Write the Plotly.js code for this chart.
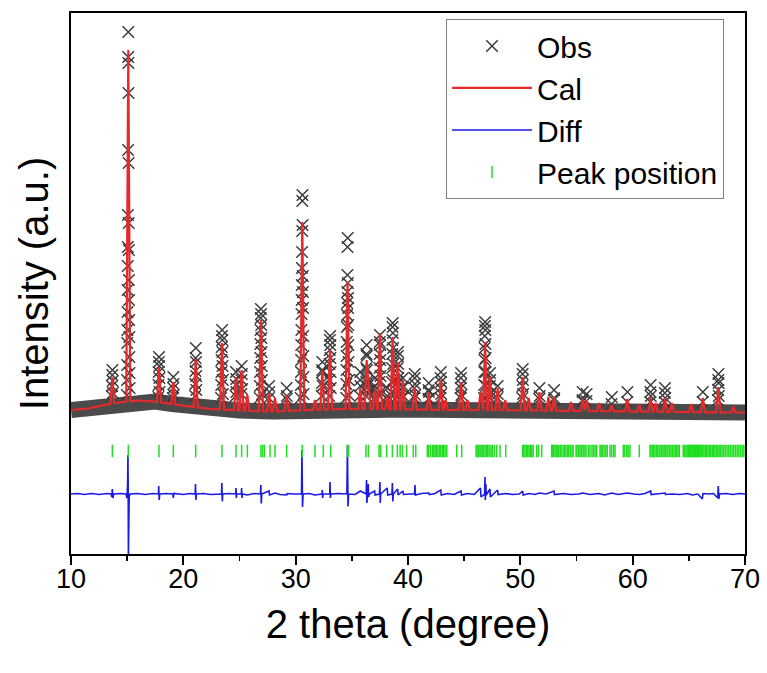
<!DOCTYPE html>
<html><head><meta charset="utf-8">
<script src="https://cdn.plot.ly/plotly-3.0.1.min.js"></script>
<style>html,body{margin:0;padding:0;background:#fff}#chart{width:767px;height:673px}</style>
</head><body><div id="chart"></div>
<script>
// ---- background of the calculated / observed pattern (2theta, intensity a.u.)
const bgX = [10, 11.5, 13, 14.5, 16, 17.5, 19, 20.5, 22.5, 25, 28, 31, 34, 37, 40, 44, 48, 52, 56, 60, 64, 68, 70];
const bgY = [1680, 1710, 1780, 1840, 1870, 1850, 1800, 1750, 1700, 1670, 1650, 1680, 1700, 1700, 1690, 1680, 1680, 1670, 1660, 1650, 1640, 1630, 1630];

// ---- calculated peaks: position and top intensity
const calPeakPos = [13.68, 15.10, 17.83, 19.11, 21.10, 23.44, 24.69, 25.19, 25.70, 26.91, 27.63, 28.16, 29.20, 30.59, 31.72, 32.37, 33.06, 34.62, 35.75, 36.32, 36.50, 37.06, 37.50, 38.15, 38.63, 39.10, 39.55, 40.60, 41.85, 42.92, 43.35, 44.72, 45.30, 46.45, 46.86, 47.30, 47.98, 48.65, 50.21, 50.75, 51.70, 52.50, 53.00, 54.50, 55.55, 55.90, 57.00, 58.13, 59.52, 60.60, 61.60, 62.05, 62.88, 63.50, 65.20, 66.24, 67.63, 68.96];
const calPeakTop = [2340, 8880, 2540, 2240, 2700, 3020, 2340, 2480, 1980, 3480, 2020, 1920, 1980, 5440, 1880, 2480, 2880, 4240, 2120, 2680, 2180, 2080, 3220, 1940, 3140, 2640, 2280, 2140, 2040, 2280, 1880, 2240, 1880, 2040, 3040, 2340, 2120, 1880, 2340, 1920, 2040, 1940, 1940, 1840, 1900, 1880, 1820, 1780, 1900, 1780, 1940, 1820, 1920, 1820, 1800, 1920, 2140, 1740];

// ---- observed points standing out above the dense baseline
const obsX = [13.63, 13.65, 13.67, 13.69, 13.71, 13.73,
  14.98, 14.99, 15.00, 15.01, 15.02, 15.03, 15.04, 15.05, 15.06, 15.07, 15.08, 15.09, 15.10, 15.11, 15.12, 15.13, 15.14, 15.15, 15.16, 15.17, 15.18, 15.19, 15.20, 15.21, 15.22,
  17.775, 17.79, 17.805, 17.82, 17.835, 17.85, 17.865, 17.88,
  19.08, 19.095, 19.11, 19.125, 19.14,
  21.05, 21.065, 21.08, 21.095, 21.11, 21.125, 21.14, 21.155,
  23.36, 23.375, 23.39, 23.405, 23.42, 23.435, 23.45, 23.465, 23.48, 23.495, 23.51, 23.525,
  24.66, 24.675, 24.69, 24.705, 24.72,
  25.16, 25.175, 25.19, 25.205, 25.22,
  26.80, 26.815, 26.83, 26.845, 26.86, 26.875, 26.89, 26.905, 26.92, 26.935, 26.95, 26.965, 26.98, 26.995, 27.01,
  27.615, 27.63, 27.645,
  29.185, 29.20, 29.215,
  30.450, 30.462, 30.474, 30.486, 30.498, 30.510, 30.522, 30.534, 30.546, 30.558, 30.570, 30.582, 30.594, 30.606, 30.618, 30.630, 30.642, 30.654, 30.666, 30.678, 30.690, 30.702,
  32.33, 32.345, 32.36, 32.375, 32.39, 32.405,
  32.990, 33.005, 33.020, 33.035, 33.050, 33.065, 33.080, 33.095, 33.110, 33.125,
  34.500, 34.512, 34.524, 34.536, 34.548, 34.560, 34.572, 34.584, 34.596, 34.608, 34.620, 34.632, 34.644, 34.656, 34.668, 34.680, 34.692, 34.704, 34.716, 34.728,
  35.72, 35.735, 35.75, 35.765,
  36.26, 36.275, 36.29, 36.305, 36.32, 36.335, 36.35, 36.365,
  36.485, 36.50, 36.515,
  37.035, 37.05, 37.065, 37.08,
  37.43, 37.445, 37.46, 37.475, 37.49, 37.505, 37.52, 37.535, 37.55, 37.565,
  38.135, 38.15, 38.165,
  38.55, 38.565, 38.58, 38.595, 38.61, 38.625, 38.64, 38.655, 38.67, 38.685, 38.70, 38.715,
  39.05, 39.065, 39.08, 39.095, 39.11, 39.125, 39.14, 39.155,
  39.52, 39.535, 39.55, 39.565, 39.58,
  40.56, 40.575, 40.59, 40.605, 40.62, 40.635,
  41.82, 41.835, 41.85, 41.865, 41.88,
  42.88, 42.895, 42.91, 42.925, 42.94, 42.955,
  44.68, 44.695, 44.71, 44.725, 44.74, 44.755,
  46.76, 46.775, 46.79, 46.805, 46.82, 46.835, 46.85, 46.865, 46.88, 46.895, 46.91, 46.925, 46.94, 46.955,
  47.27, 47.285, 47.30, 47.315, 47.33,
  47.965, 47.98, 47.995,
  50.17, 50.185, 50.20, 50.215, 50.23, 50.245,
  51.685, 51.70, 51.715,
  52.985, 53.00, 53.015,
  55.535, 55.55, 55.565,
  55.885, 55.90,
  58.12, 58.14,
  59.51, 59.53,
  61.57, 61.585, 61.60, 61.615,
  62.85, 62.865, 62.88, 62.895,
  66.23, 66.25,
  67.59, 67.605, 67.62, 67.635, 67.65, 67.665];
const obsY = [1960, 2160, 2380, 2480, 2260, 2020,
  1980, 2280, 2580, 3020, 3280, 3640, 4080, 4560, 4940, 5580, 6880, 8740, 9240, 8620, 8020, 6620, 5420, 4880, 4280, 3880, 3480, 3140, 2740, 2420, 2120,
  1940, 2180, 2440, 2640, 2740, 2560, 2320, 2040,
  1920, 2120, 2340, 2200, 1980,
  1960, 2200, 2460, 2720, 2920, 2640, 2360, 2080,
  1920, 2180, 2440, 2680, 2940, 3160, 3280, 3080, 2840, 2560, 2280, 2000,
  1960, 2180, 2440, 2300, 2040,
  2000, 2280, 2560, 2400, 2100,
  1920, 2160, 2440, 2720, 3000, 3280, 3520, 3700, 3600, 3380, 3120, 2840, 2560, 2280, 2000,
  1920, 2160, 2040,
  1900, 2120, 1960,
  1920, 2180, 2440, 2680, 2980, 3280, 3600, 3880, 4180, 4520, 4840, 5260, 5860, 5980, 5380, 4360, 4040, 3720, 3160, 2760, 2340, 2000,
  1960, 2220, 2480, 2640, 2440, 2160,
  1960, 2280, 2600, 2880, 3080, 3160, 2980, 2720, 2440, 2120,
  1920, 2200, 2480, 2760, 3040, 3340, 3580, 3820, 4040, 4380, 4940, 5120, 4220, 3920, 3720, 3380, 2980, 2640, 2280, 1980,
  1960, 2280, 2440, 2160,
  1960, 2240, 2520, 2800, 2980, 2760, 2480, 2160,
  2000, 2240, 2080,
  1920, 2160, 2320, 2080,
  1960, 2240, 2520, 2800, 3040, 3180, 2980, 2680, 2360, 2040,
  1900, 2120, 1960,
  1960, 2240, 2520, 2800, 3080, 3340, 3420, 3220, 2920, 2600, 2280, 2000,
  1960, 2240, 2520, 2760, 2840, 2600, 2320, 2040,
  1920, 2120, 2320, 2160, 1960,
  1920, 2120, 2320, 2400, 2200, 1980,
  1900, 2080, 2220, 2040, 1900,
  1920, 2120, 2320, 2440, 2240, 2000,
  1920, 2120, 2320, 2420, 2200, 1980,
  1920, 2180, 2440, 2680, 2920, 3160, 3360, 3440, 3280, 3000, 2720, 2440, 2160, 1920,
  1920, 2160, 2420, 2280, 2000,
  1920, 2160, 2000,
  1920, 2160, 2400, 2500, 2280, 2000,
  1900, 2120, 1960,
  1880, 2080, 1920,
  1860, 2040, 1880,
  1860, 2000,
  1800, 1940,
  1840, 2040,
  1840, 2040, 2180, 1960,
  1840, 2020, 2120, 1920,
  1840, 2040,
  1880, 2080, 2280, 2400, 2220, 1960];

// ---- difference curve (obs - cal)
const diffX = [10.0, 10.6, 11.2, 11.8, 12.5, 13.2, 13.58, 13.63, 13.68, 13.73, 13.80, 14.4, 14.9, 14.98, 15.04, 15.07, 15.09, 15.11, 15.14, 15.18, 15.25, 15.9, 16.6, 17.3, 17.78, 17.81, 17.85, 17.90, 18.5, 19.08, 19.11, 19.15, 20.0, 20.6, 21.05, 21.08, 21.12, 21.16, 21.8, 22.4, 23.40, 23.43, 23.47, 23.51, 24.1, 24.66, 24.69, 24.72, 24.75, 25.16, 25.19, 25.22, 25.26, 25.70, 26.3, 26.86, 26.90, 26.94, 26.98, 27.63, 27.67, 28.16, 28.6, 29.20, 29.24, 29.9, 30.52, 30.56, 30.61, 30.66, 31.2, 31.72, 32.34, 32.37, 32.40, 32.44, 33.03, 33.06, 33.09, 33.13, 33.8, 34.56, 34.61, 34.66, 34.71, 35.3, 35.75, 36.27, 36.31, 36.34, 36.40, 36.46, 36.49, 36.55, 37.03, 37.07, 37.46, 37.50, 37.53, 37.57, 38.15, 38.19, 38.57, 38.61, 38.65, 38.69, 39.08, 39.12, 39.55, 39.6, 40.1, 40.58, 40.62, 40.66, 41.2, 41.85, 41.9, 42.4, 42.92, 42.96, 43.5, 44.1, 44.72, 44.76, 45.3, 45.9, 46.45, 46.50, 46.82, 46.85, 46.88, 46.93, 46.97, 47.30, 47.33, 47.98, 48.02, 48.7, 49.3, 49.9, 50.21, 50.25, 50.8, 51.3, 51.70, 52.3, 53.00, 53.04, 53.8, 54.5, 55.2, 55.55, 56.2, 57.0, 57.5, 58.13, 58.7, 59.52, 60.1, 60.6, 61.1, 61.60, 61.64, 62.3, 62.88, 62.92, 63.5, 64.2, 64.9, 65.3, 65.8, 66.20, 66.26, 66.8, 67.2, 67.58, 67.62, 67.67, 67.73, 68.3, 68.9, 69.5, 70.0];
const diffY = [0, 10, -10, 10, -10, 10, 0, -60, 100, -80, 0, 10, 0, -80, 200, 780, 200, -1300, -300, -60, 0, 10, -10, 10, 0, 160, -120, 0, 10, 0, -80, 10, -10, 10, 0, 200, -120, 0, 10, -10, 0, 220, -150, 0, 10, 0, 120, -80, 0, 0, 120, -80, 0, -20, 10, 0, 180, -190, 0, 60, -20, 20, -10, -20, 10, 0, 0, 880, -260, 0, 10, -20, 0, 80, -80, 0, 0, 240, -80, 0, 10, 0, 980, -250, 0, -10, 60, 0, 280, -180, 0, 200, -60, 0, 60, -20, 0, 240, -180, 0, 120, -20, 0, 220, -150, 0, 100, -20, 60, -10, 0, 0, 180, -20, 10, 20, -10, 10, 80, -20, 10, -10, 60, -20, 10, -10, 120, -60, 0, 340, -120, 200, -20, 100, -60, 80, -10, 10, -10, 0, 60, -20, 10, -10, 20, 0, 60, -10, 10, -10, 0, 20, -10, 10, -20, 20, -10, 20, 0, -10, 10, 60, -10, 10, 20, -10, 0, -10, 10, -20, 0, -100, 10, 0, 10, -80, 160, -100, 0, 10, -10, 10, 0];

// ---- Bragg reflection positions
const reflPos = [13.68, 15.10, 17.83, 19.11, 21.10, 23.44, 24.69, 25.19, 25.70, 26.91, 27.06, 27.21, 27.72, 28.16, 29.20, 30.59, 31.72, 32.46, 33.12, 34.60, 34.72, 36.26, 36.47, 37.42, 37.57, 38.10, 38.61, 39.05, 39.30, 39.50, 39.88,
  40.47, 40.69, 41.72, 41.85, 42.02, 42.20, 42.30, 42.42, 42.55, 42.66, 42.80, 42.92, 43.05, 43.18, 43.30, 43.45, 44.34, 44.78,
  46.06, 46.15, 46.27, 46.40, 46.50, 46.60, 46.72, 46.86, 46.98, 47.10, 47.22, 47.38, 47.50, 47.68, 47.90, 48.19, 48.70,
  50.21, 50.30, 50.42, 50.55, 50.66, 50.78, 50.90, 51.02, 51.15, 51.46, 51.62, 51.90,
  52.79, 52.88, 52.97, 53.10, 53.18, 53.30, 53.42, 53.55, 53.63, 53.80, 53.92, 54.05, 54.20, 54.31, 54.45, 54.60, 54.70,
  54.96, 55.05, 55.20, 55.32, 55.46, 55.60, 55.75, 55.85, 56.05, 56.20, 56.38, 56.52, 56.66, 56.80,
  57.09, 57.20, 57.31, 57.45, 57.60, 57.74, 57.98, 58.13, 58.30, 58.43, 59.17, 59.30, 59.47, 59.60, 59.76, 60.59,
  61.55, 61.62, 61.75, 61.85, 61.98, 62.10, 62.21, 62.35, 62.44, 62.58, 62.70, 62.80, 62.92, 63.05, 63.15, 63.30, 63.42, 63.55, 63.68, 63.80, 63.92, 64.05, 64.15,
  64.50, 64.62, 64.75, 64.85, 64.96, 65.05, 65.12, 65.20, 65.28, 65.36, 65.44, 65.52, 65.60, 65.68, 65.76, 65.84, 65.92, 66.00, 66.08, 66.16, 66.24, 66.35, 66.47, 66.58, 66.70, 66.82, 66.95, 67.08, 67.20, 67.32, 67.45, 67.58, 67.70, 67.83, 67.96, 68.10, 68.25, 68.40, 68.55, 68.70, 68.85, 69.00, 69.15, 69.30, 69.45, 69.60, 69.75, 69.90];

const xTickVals = [10, 20, 30, 40, 50, 60, 70];
const xTickText = ['10', '20', '30', '40', '50', '60', '70'];

// ---- helpers (build the Cal polyline from the peak list)
function bgAt(x) {
  if (x <= bgX[0]) return bgY[0];
  for (let i = 1; i < bgX.length; i++) {
    if (x <= bgX[i]) {
      const t = (x - bgX[i - 1]) / (bgX[i] - bgX[i - 1]);
      return bgY[i - 1] + t * (bgY[i] - bgY[i - 1]);
    }
  }
  return bgY[bgY.length - 1];
}
const HW = 0.18;
const amp = calPeakPos.map((p, i) => calPeakTop[i] - bgAt(p));
let calX = new Set(bgX.map(v => +v.toFixed(4)));
calPeakPos.forEach(p => { [p - HW, p, p + HW].forEach(v => calX.add(+v.toFixed(4))); });
calX = [...calX].filter(v => v >= 10 && v <= 70).sort((a, b) => a - b);
const calY = calX.map(x => {
  let y = bgAt(x);
  calPeakPos.forEach((p, i) => { const d = Math.abs(x - p); if (d < HW) y += amp[i] * (1 - d / HW); });
  return y;
});
const reflY = reflPos.map(() => 860);

const FONT = 'Liberation Sans, Arial, Helvetica, sans-serif';
const data = [
  { x: bgX, y: bgY, mode: 'lines', line: { color: '#4a4a4a', width: 16 }, showlegend: false, hoverinfo: 'skip' },
  { x: obsX, y: obsY, mode: 'markers', name: 'Obs',
    marker: { symbol: 'x-thin-open', size: 11.5, color: '#3c3c3c', line: { color: '#3c3c3c', width: 1.5 } } },
  { x: calX, y: calY, mode: 'lines', name: 'Cal', line: { color: '#e8292c', width: 2.2 } },
  { x: diffX, y: diffY, mode: 'lines', name: 'Diff', line: { color: '#1a1ae6', width: 1.6 } },
  { x: reflPos, y: reflY, mode: 'markers', name: 'Peak position',
    marker: { symbol: 'line-ns-open', size: 9, color: '#22dd22', line: { color: '#22dd22', width: 1.5 } } }
];

const layout = {
  width: 767, height: 673,
  margin: { l: 71, r: 22, t: 13, b: 119 },
  paper_bgcolor: '#fff', plot_bgcolor: '#fff',
  font: { family: FONT, color: '#000' },
  showlegend: true,
  legend: {
    x: 0.5564, y: 0.989, xanchor: 'left', yanchor: 'top',
    bgcolor: '#fff', bordercolor: '#808080', borderwidth: 1,
    font: { family: FONT, size: 30, color: '#000' },
    itemwidth: 80, tracegroupgap: 0
  },
  xaxis: {
    range: [10, 70], tickmode: 'array', tickvals: xTickVals, ticktext: xTickText,
    ticks: 'outside', ticklen: 9, tickwidth: 2, tickcolor: '#000', ticklabelstandoff: -9,
    minor: { dtick: 5, tick0: 10, ticks: 'outside', ticklen: 5, tickwidth: 1.5, tickcolor: '#000' },
    showline: true, linewidth: 2, linecolor: '#000', mirror: true,
    showgrid: false, zeroline: false,
    tickfont: { family: FONT, size: 27, color: '#000' },
    title: { text: '2 theta (degree)', font: { family: FONT, size: 40, color: '#000' }, standoff: 17 }
  },
  yaxis: {
    range: [-1200, 9620], showticklabels: false, ticks: '',
    showline: true, linewidth: 2, linecolor: '#000', mirror: true,
    showgrid: false, zeroline: false,
    title: { text: 'Intensity (a.u.)', font: { family: FONT, size: 40, color: '#000' }, standoff: 8 }
  }
};

Plotly.newPlot('chart', data, layout, { displayModeBar: false, staticPlot: true });
</script>
</body></html>
